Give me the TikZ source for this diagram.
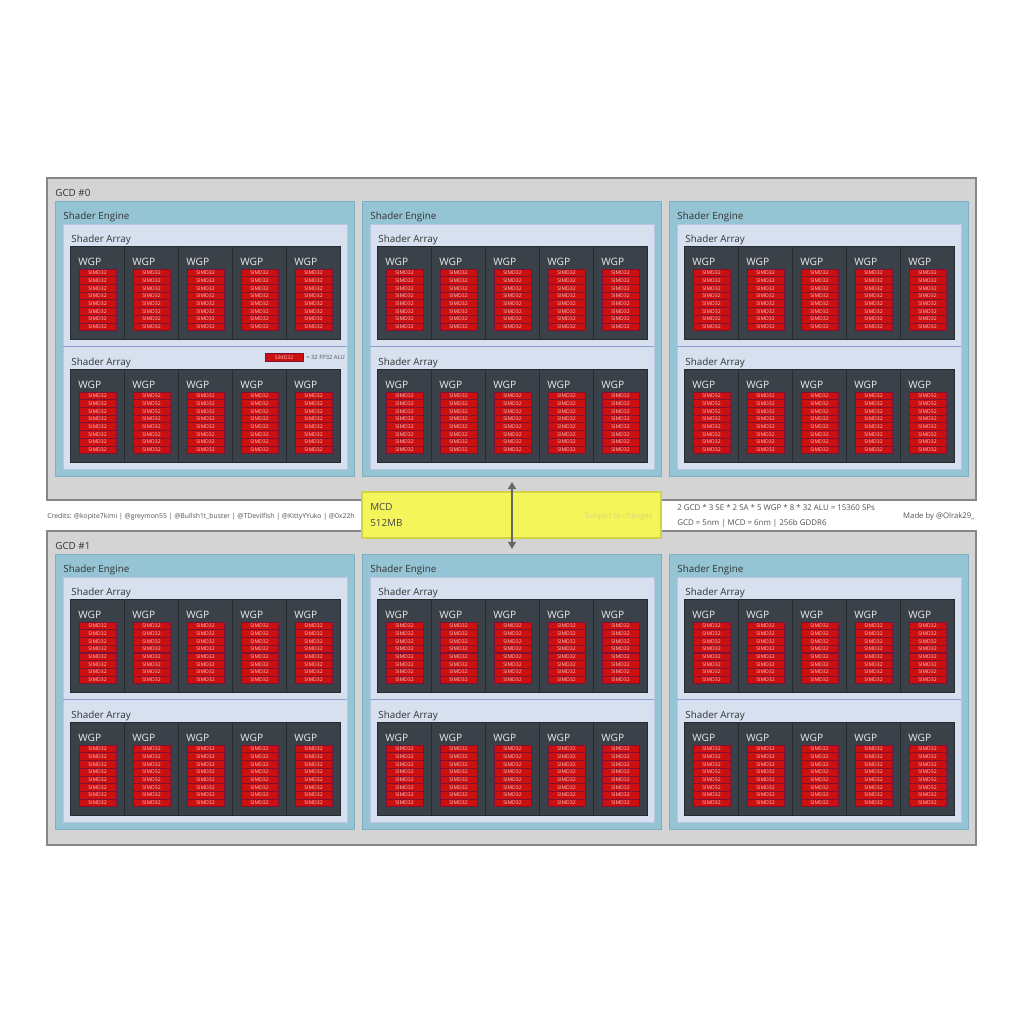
\documentclass[tikz,border=0pt]{standalone}
\usepackage{fontspec}
\setmainfont{Open Sans}
\usetikzlibrary{arrows.meta}

\definecolor{gcdgray}{HTML}{D4D4D4}
\definecolor{gcdline}{HTML}{868686}
\definecolor{seblue}{HTML}{95C4D4}
\definecolor{seline}{HTML}{7FAFC2}
\definecolor{safill}{HTML}{D6E0EF}
\definecolor{saline}{HTML}{8C9FCF}
\definecolor{wgpdark}{HTML}{3A4148}
\definecolor{wgpline}{HTML}{262B30}
\definecolor{simdred}{HTML}{CC1010}
\definecolor{simdline}{HTML}{7D1035}
\definecolor{simdtext}{HTML}{F6C8C8}
\definecolor{mcdyellow}{HTML}{F4F45B}
\definecolor{mcdline}{HTML}{D2D244}
\definecolor{txtdark}{HTML}{333333}
\definecolor{subtle}{HTML}{D6D67A}
\definecolor{arrowgray}{HTML}{666666}

\tikzset{
	gcdbox/.style={draw=gcdline, fill=gcdgray, line width=0.6pt},
	sebox/.style={draw=seline, fill=seblue, line width=0.5pt},
	sabox/.style={draw=saline!60, fill=safill, line width=0.5pt},
	sasep/.style={draw=saline, line width=0.5pt},
	wgpbox/.style={draw=wgpline, fill=wgpdark, line width=0.5pt},
	lbl/.style={anchor=base west, inner sep=0pt, text=txtdark, font=\fontsize{5.6}{6}\selectfont},
	wgptxt/.style={anchor=base west, inner sep=0pt, text=white!92!black, font=\fontsize{5.8}{6}\selectfont},
	simd/.style={draw=simdline, fill=simdred, line width=0.35pt, inner sep=0pt,
		minimum width=0.74cm, minimum height=0.154cm, text=simdtext, font=\fontsize{2.9}{3}\selectfont},
	note/.style={anchor=base west, inner sep=0pt, text=txtdark!85, font=\fontsize{3.9}{4.2}\selectfont},
	bignote/.style={note, font=\fontsize{4.5}{4.8}\selectfont},
	mcdbox/.style={draw=mcdline, fill=mcdyellow, line width=0.6pt},
	mcdtxt/.style={anchor=base west, inner sep=0pt, text=txtdark!90, font=\fontsize{5.6}{6}\selectfont},
	link/.style={draw=arrowgray, line width=0.6pt, arrows={Triangle[length=4pt,width=4.5pt]-Triangle[length=4pt,width=4.5pt]}}
}

% one row of five WGPs, top left corner given
\def\wgprow(#1,#2){%
	\foreach \k in {0,...,4}{
		\draw[wgpbox] ({#1+54*\k},{#2}) rectangle ++(54,93);
		\node[wgptxt] at ({#1+54*\k+8},{#2+19}) {WGP};
		\foreach \b in {0,...,7}
			\node[simd] at ({#1+54*\k+27.5},{#2+26.85+7.7*\b}) {SIMD32};
	}
}

% shader engine with two shader arrays, top left corner given
\def\shaderengine(#1,#2){%
	\draw[sebox] ({#1},{#2}) rectangle ++(299,275);
	\node[lbl] at ({#1+8},{#2+18}) {Shader Engine};
	\draw[sabox] ({#1+8},{#2+23}) rectangle ++(284,245);
	\draw[sasep] ({#1+8},{#2+145}) -- ++(284,0);
	\node[lbl] at ({#1+16},{#2+41}) {Shader Array};
	\node[lbl] at ({#1+16},{#2+164}) {Shader Array};
	\wgprow({#1+15},{#2+45})
	\wgprow({#1+15},{#2+168})
}

\begin{document}
\begin{tikzpicture}[x=0.02cm, y=-0.02cm]
	%%%%% START %%%%%
	\fill[white] (0,0) rectangle (1024,1024);
	\useasboundingbox (0,0) rectangle (1024,1024);
	
	\draw[gcdbox] (47,178) rectangle (976,500);
	\node[lbl] (gcd0) at (55,196) {GCD \#0};
	
	\draw[gcdbox] (47,531) rectangle (976,845);
	\node[lbl] (gcd1) at (55,549) {GCD \#1};
	
	\foreach \sx in {55,362,669}{
		\shaderengine(\sx,201)
		\shaderengine(\sx,554)
	}
	
	% legend
	\node[simd, minimum width=0.76cm] (key) at (284,357.5) {SIMD32};
	\node[note, font=\fontsize{3.3}{3.5}\selectfont] (keytxt) at (306,359.5) {= 32 FP32 ALU};
	
	% strip between the two dies
	\node[note] (credits) at (47,518.5) {Credits: @kopite7kimi | @greymon55 | @Bullsh1t\_buster | @TDevilfish | @KittyYYuko | @0x22h};
	
	\draw[mcdbox] (362,492) rectangle (661,538);
	\node[mcdtxt] (mcd) at (370,510) {MCD};
	\node[mcdtxt] (mcdsize) at (370,526) {512MB};
	\node[bignote, font=\fontsize{4.4}{4.6}\selectfont, anchor=base east, text=subtle] (subj) at (653,518.5) {Subject to changes};
	
	\node[bignote] (sps) at (677,510.5) {2 GCD * 3 SE * 2 SA * 5 WGP * 8 * 32 ALU = 15360 SPs};
	\node[bignote] (nodes) at (677,525) {GCD = 5nm | MCD = 6nm | 256b GDDR6};
	\node[bignote, font=\fontsize{4.4}{4.6}\selectfont, anchor=base east] (madeby) at (975,518.5) {Made by @Olrak29\_};
	
	\coordinate (die0) at (512,482);
	\coordinate (die1) at (512,549);
	\draw[link] (die0) -- (die1);
	%%%%% END %%%%%
\end{tikzpicture}
\end{document}
